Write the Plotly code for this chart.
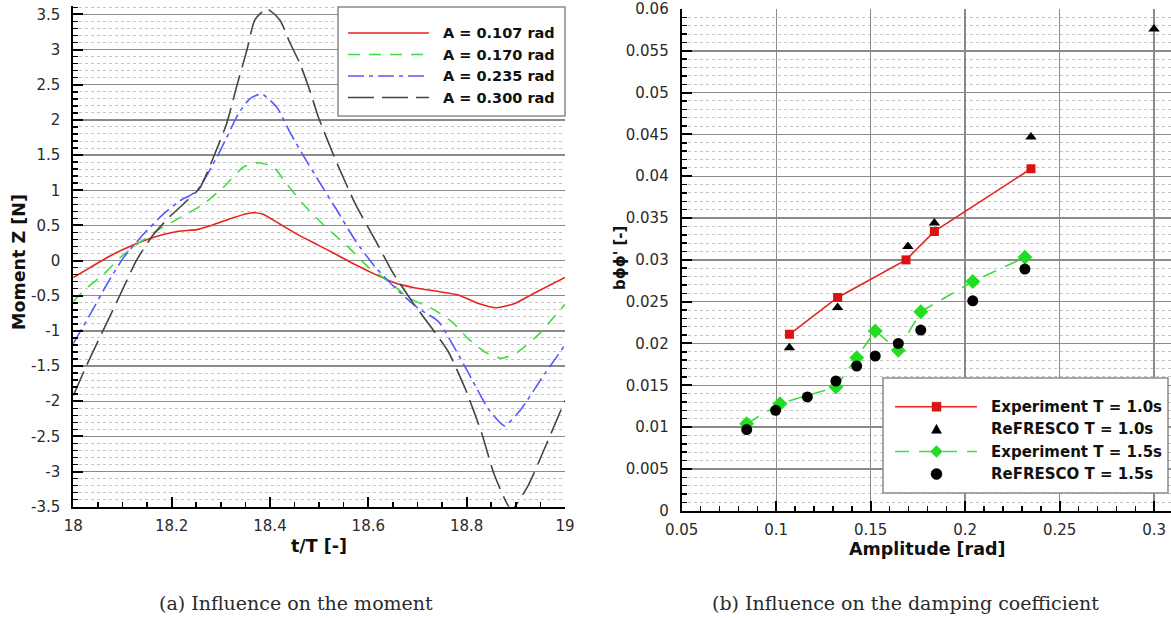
import plotly.graph_objects as go

# ---------------- Left panel: moment time traces ----------------
t_a107 = [18.0, 18.034, 18.068, 18.102, 18.142, 18.183, 18.217, 18.251, 18.285, 18.325, 18.363, 18.386,
          18.420, 18.454, 18.498, 18.534, 18.574, 18.615, 18.655, 18.696, 18.743, 18.783, 18.824, 18.861,
          18.898, 18.938, 19.0]
m_a107 = [-0.24, -0.10, 0.04, 0.16, 0.28, 0.37, 0.42, 0.44, 0.51, 0.61, 0.68, 0.66,
          0.52, 0.38, 0.22, 0.09, -0.06, -0.20, -0.32, -0.39, -0.44, -0.49, -0.61, -0.67,
          -0.61, -0.46, -0.24]

t_a170 = [18.0, 18.027, 18.061, 18.095, 18.129, 18.169, 18.217, 18.264, 18.305, 18.346, 18.376, 18.407,
          18.434, 18.468, 18.507, 18.561, 18.601, 18.642, 18.682, 18.729, 18.770, 18.803, 18.837, 18.871,
          18.904, 18.945, 19.0]
m_a170 = [-0.58, -0.39, -0.20, 0.04, 0.23, 0.42, 0.61, 0.80, 1.04, 1.33, 1.39, 1.33,
          1.09, 0.80, 0.52, 0.18, -0.10, -0.30, -0.53, -0.68, -0.87, -1.11, -1.30, -1.39,
          -1.30, -1.06, -0.62]

t_a235 = [18.0, 18.034, 18.068, 18.102, 18.142, 18.183, 18.217, 18.251, 18.292, 18.312, 18.336, 18.359,
          18.383, 18.414, 18.441, 18.468, 18.502, 18.534, 18.574, 18.615, 18.662, 18.702, 18.743, 18.776,
          18.810, 18.844, 18.877, 18.911, 18.952, 19.0]
m_a235 = [-1.18, -0.77, -0.34, 0.04, 0.37, 0.66, 0.85, 0.99, 1.47, 1.75, 2.09, 2.30,
          2.37, 2.18, 1.82, 1.49, 1.10, 0.74, 0.28, -0.10, -0.44, -0.68, -0.87, -1.25,
          -1.68, -2.11, -2.35, -2.11, -1.68, -1.20]

t_a300 = [18.0, 18.027, 18.061, 18.095, 18.129, 18.163, 18.197, 18.231, 18.258, 18.285, 18.312, 18.332,
          18.353, 18.369, 18.393, 18.420, 18.441, 18.461, 18.481, 18.498, 18.534, 18.574, 18.615, 18.648,
          18.689, 18.729, 18.763, 18.797, 18.830, 18.857, 18.891, 18.925, 18.958, 19.0]
m_a300 = [-1.92, -1.49, -0.99, -0.49, 0.01, 0.37, 0.63, 0.85, 1.04, 1.47, 1.95, 2.47,
          2.99, 3.42, 3.58, 3.42, 3.09, 2.80, 2.42, 2.05, 1.42, 0.80, 0.28, -0.15,
          -0.58, -0.96, -1.30, -1.82, -2.44, -3.06, -3.54, -3.20, -2.68, -1.99]

left_names = ["A = 0.107 rad", "A = 0.170 rad", "A = 0.235 rad", "A = 0.300 rad"]

left_xticks = [18, 18.2, 18.4, 18.6, 18.8, 19]
left_xticklabels = ["18", "18.2", "18.4", "18.6", "18.8", "19"]
left_yticks = [-3.5, -3, -2.5, -2, -1.5, -1, -0.5, 0, 0.5, 1, 1.5, 2, 2.5, 3, 3.5]
left_yticklabels = ["-3.5", "-3", "-2.5", "-2", "-1.5", "-1", "-0.5", "0", "0.5", "1", "1.5", "2", "2.5", "3", "3.5"]

# ---------------- Right panel: damping coefficient ----------------
amp_exp_10 = [0.107, 0.1325, 0.1687, 0.1837, 0.2348]
b_exp_10 = [0.0211, 0.0255, 0.0300, 0.0334, 0.0409]
amp_ref_10 = [0.107, 0.1325, 0.1697, 0.1837, 0.2348, 0.2999]
b_ref_10 = [0.0195, 0.0243, 0.0316, 0.0344, 0.0447, 0.0576]
amp_exp_15 = [0.0844, 0.1020, 0.1316, 0.1426, 0.1524, 0.1646, 0.1765, 0.2040, 0.2316]
b_exp_15 = [0.0104, 0.0128, 0.0148, 0.0183, 0.0215, 0.0192, 0.0238, 0.0274, 0.0303]
amp_ref_15 = [0.0844, 0.0997, 0.1165, 0.1316, 0.1426, 0.1524, 0.1646, 0.1765, 0.2040, 0.2316]
b_ref_15 = [0.0097, 0.0120, 0.0136, 0.0155, 0.0173, 0.0185, 0.0200, 0.0216, 0.0251, 0.0289]

right_names = ["Experiment T = 1.0s", "ReFRESCO T = 1.0s", "Experiment T = 1.5s", "ReFRESCO T = 1.5s"]

right_xticks = [0.05, 0.1, 0.15, 0.2, 0.25, 0.3]
right_xticklabels = ["0.05", "0.1", "0.15", "0.2", "0.25", "0.3"]
right_yticks = [0, 0.005, 0.01, 0.015, 0.02, 0.025, 0.03, 0.035, 0.04, 0.045, 0.05, 0.055, 0.06]
right_yticklabels = ["0", "0.005", "0.01", "0.015", "0.02", "0.025", "0.03", "0.035", "0.04", "0.045",
                     "0.05", "0.055", "0.06"]

W, H = 1171, 618
TICKFONT = dict(family="DejaVu Sans", size=15, color="#2a2a2a")
LEGFONT = dict(family="DejaVu Sans", size=14.5, color="#111111")
LEGFONT2 = dict(family="DejaVu Sans", size=15, color="#111111")
TITLEFONT = dict(family="DejaVu Sans", size=17.5, color="#111111")

RED = "#e8221e"
GREEN = "#3fdc3f"
BLUE = "#5858ff"
DARK = "#454545"
DASH_G = "12px,9px"
DASH_B = "16px,5px,4px,5px"
DASH_K = "26px,8px"

fig = go.Figure()

left_series = [(t_a107, m_a107, RED, "solid"),
               (t_a170, m_a170, GREEN, DASH_G),
               (t_a235, m_a235, BLUE, DASH_B),
               (t_a300, m_a300, DARK, DASH_K)]
for i, (tt, mm, col, dash) in enumerate(left_series):
    fig.add_trace(go.Scatter(x=tt, y=mm, mode="lines", name=left_names[i], showlegend=False,
                             line=dict(color=col, width=1.6, dash=dash, shape="spline", smoothing=0.55),
                             xaxis="x", yaxis="y"))

fig.add_trace(go.Scatter(x=amp_exp_10, y=b_exp_10, mode="lines+markers", name=right_names[0],
                         line=dict(color=RED, width=1.6), showlegend=False,
                         marker=dict(symbol="square", size=9, color="#dd1111"),
                         xaxis="x2", yaxis="y2"))
fig.add_trace(go.Scatter(x=amp_ref_10, y=b_ref_10, mode="markers", name=right_names[1],
                         marker=dict(symbol="triangle-up", size=10, color="black"), showlegend=False,
                         xaxis="x2", yaxis="y2"))
fig.add_trace(go.Scatter(x=amp_exp_15, y=b_exp_15, mode="lines+markers", name=right_names[2],
                         line=dict(color=GREEN, width=1.6, dash="14px,10px"), showlegend=False,
                         marker=dict(symbol="diamond", size=11.5, color="#22dd22"),
                         xaxis="x2", yaxis="y2"))
fig.add_trace(go.Scatter(x=amp_ref_15, y=b_ref_15, mode="markers", name=right_names[3],
                         marker=dict(symbol="circle", size=11, color="black"), showlegend=False,
                         xaxis="x2", yaxis="y2"))


def px2x(px):
    return px / W


def py2y(py):
    return 1 - py / H


axis_common = dict(showline=True, linecolor="black", linewidth=2, ticks="inside", ticklen=10,
                   tickwidth=2, tickcolor="black", tickfont=TICKFONT, zeroline=False,
                   gridcolor="#8a8a8a", gridwidth=1.4, automargin=False)

fig.update_layout(
    width=W, height=H, margin=dict(l=0, r=0, t=0, b=0, autoexpand=False),
    paper_bgcolor="white", plot_bgcolor="white", showlegend=False, hovermode=False,
    xaxis=dict(domain=[px2x(73.3), px2x(565)], range=[18, 19], anchor="y",
               tickmode="array", tickvals=left_xticks, ticktext=left_xticklabels,
               showgrid=False, ticklabelstandoff=4,
               minor=dict(tick0=18, dtick=0.05, ticks="inside", ticklen=5, tickwidth=1.5,
                          tickcolor="black", showgrid=False),
               **axis_common),
    yaxis=dict(domain=[py2y(506.7), py2y(6)], range=[-3.5, 3.62], anchor="x",
               tickmode="array", tickvals=left_yticks, ticktext=left_yticklabels,
               showgrid=True, ticklabelstandoff=8,
               minor=dict(tick0=0, dtick=0.1, ticks="inside", ticklen=5, tickwidth=1.5,
                          tickcolor="black", showgrid=True, gridcolor="#c4c4c4", griddash="dot",
                          gridwidth=1),
               **axis_common),
    xaxis2=dict(domain=[px2x(681.7), 1.0], range=[0.05, 0.3089], anchor="y2",
                tickmode="array", tickvals=right_xticks, ticktext=right_xticklabels,
                showgrid=True, ticklabelstandoff=4,
                minor=dict(tick0=0.05, dtick=0.01, ticks="inside", ticklen=5, tickwidth=1.5,
                           tickcolor="black", showgrid=False),
                **axis_common),
    yaxis2=dict(domain=[py2y(510.7), py2y(9)], range=[0, 0.06], anchor="x2",
                tickmode="array", tickvals=right_yticks, ticktext=right_yticklabels,
                showgrid=True, ticklabelstandoff=8,
                minor=dict(tick0=0, dtick=0.001, ticks="inside", ticklen=5, tickwidth=1.5,
                           tickcolor="black", showgrid=True, gridcolor="#c4c4c4", griddash="dot",
                           gridwidth=1),
                **axis_common),
)

# ---------------- custom legends (long line samples as in the original) ----------------
def rect_px(x0, y0, x1, y1, **kw):
    fig.add_shape(type="rect", xref="paper", yref="paper", layer="above",
                  x0=px2x(x0), x1=px2x(x1), y0=py2y(y0), y1=py2y(y1), **kw)


def line_px(x0, y, x1, color, dash, width=1.6):
    fig.add_shape(type="line", xref="paper", yref="paper", layer="above",
                  x0=px2x(x0), x1=px2x(x1), y0=py2y(y), y1=py2y(y),
                  line=dict(color=color, width=width, dash=dash))


def path_px(pts, color):
    d = "M " + " L ".join("%.5f,%.5f" % (px2x(x), py2y(y)) for x, y in pts) + " Z"
    fig.add_shape(type="path", xref="paper", yref="paper", layer="above", path=d,
                  fillcolor=color, line=dict(color=color, width=0.5))


def text_px(txt, x, y, font):
    fig.add_annotation(xref="paper", yref="paper", showarrow=False, xanchor="left", yanchor="middle",
                       x=px2x(x), y=py2y(y), text="<b>%s</b>" % txt, font=font)


# left legend
rect_px(338, 7, 565, 116, fillcolor="white", line=dict(color="#8a8a8a", width=1.5))
left_leg_y = [33, 54.5, 76, 97.5]
left_leg_style = [(RED, "solid"), (GREEN, DASH_G), (BLUE, DASH_B), (DARK, DASH_K)]
for i, (yy, (col, dash)) in enumerate(zip(left_leg_y, left_leg_style)):
    line_px(348, yy, 429, col, dash)
    text_px(left_names[i], 441, yy, LEGFONT)

# right legend
rect_px(883, 378, 1168, 493, fillcolor="white", line=dict(color="#8a8a8a", width=1.5))
right_leg_y = [406.7, 429.3, 451.5, 474]
cx = 936.5
line_px(895, right_leg_y[0], 977, RED, "solid")
rect_px(cx - 4.5, right_leg_y[0] - 4.5, cx + 4.5, right_leg_y[0] + 4.5, fillcolor="#dd1111",
        line=dict(color="#dd1111", width=0.5))
yy = right_leg_y[1]
path_px([(cx - 5, yy + 4), (cx + 5, yy + 4), (cx, yy - 5)], "black")
line_px(895, right_leg_y[2], 977, GREEN, "14px,10px")
yy = right_leg_y[2]
path_px([(cx, yy - 6), (cx + 6, yy), (cx, yy + 6), (cx - 6, yy)], "#22dd22")
yy = right_leg_y[3]
fig.add_shape(type="circle", xref="paper", yref="paper", layer="above",
              x0=px2x(cx - 5.5), x1=px2x(cx + 5.5), y0=py2y(yy + 5.5), y1=py2y(yy - 5.5),
              fillcolor="black", line=dict(color="black", width=0.5))
for i, yy in enumerate(right_leg_y):
    text_px(right_names[i], 989, yy, LEGFONT2)

ann = [
    dict(text="<b>Moment Z [N]</b>", x=px2x(19), y=py2y(262), textangle=-90, font=TITLEFONT),
    dict(text="<b>t/T [-]</b>", x=px2x(319), y=py2y(546), font=TITLEFONT),
    dict(text="<b>bϕϕ' [-]</b>", x=px2x(620), y=py2y(258), textangle=-90,
         font=dict(family="DejaVu Sans", size=15, color="#111111")),
    dict(text="<b>Amplitude [rad]</b>", x=px2x(927), y=py2y(549), font=TITLEFONT),
    dict(text="(a) Influence on the moment", x=px2x(296), y=py2y(603),
         font=dict(family="DejaVu Serif", size=19, color="#2a2a2a")),
    dict(text="(b) Influence on the damping coefficient", x=px2x(905), y=py2y(603),
         font=dict(family="DejaVu Serif", size=19, color="#2a2a2a")),
]
for a in ann:
    fig.add_annotation(xref="paper", yref="paper", showarrow=False, xanchor="center", yanchor="middle", **a)

fig.write_html("out.html", config={"displayModeBar": False, "staticPlot": True},
               post_script="document.body.style.margin='0';document.body.style.overflow='hidden';")
